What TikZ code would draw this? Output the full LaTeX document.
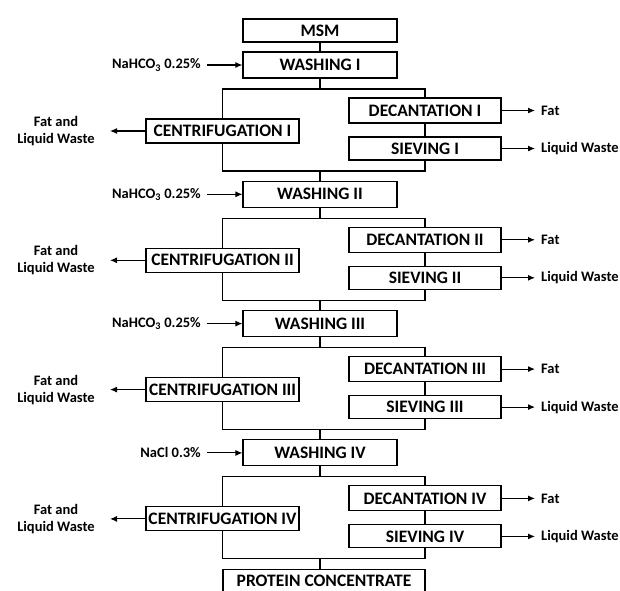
\documentclass[tikz,border=0pt]{standalone}
\usepackage{fontspec}
\setmainfont{Carlito}
\usetikzlibrary{arrows.meta}
\begin{document}
\begin{tikzpicture}[x=1pt,y=-1pt,
  box/.style={draw,line width=1.1pt,inner sep=0pt,font=\fontsize{17.5}{19}\selectfont\bfseries},
  lbl/.style={inner sep=0pt,font=\fontsize{14.5}{17}\selectfont\bfseries,align=center},
  ln/.style={line width=1.1pt},
  arr/.style={line width=1.1pt,-{Latex[length=7pt,width=6pt]}}]
\useasboundingbox (0,0) rectangle (620,590);
\fill[white] (0,0) rectangle (620,590);
\node[box,minimum width=154pt,minimum height=23pt] (m) at (320,30.5) {MSM};
\foreach \k/\r/\chem in {0/I/{NaHCO\textsubscript{3} 0.25\%},1/II/{NaHCO\textsubscript{3} 0.25\%},2/III/{NaHCO\textsubscript{3} 0.25\%},3/IV/{NaCl 0.3\%}}{
  \pgfmathsetmacro{\dy}{\k*129.3}
  \node[box,minimum width=154pt,minimum height=26pt] (w\k) at (320,65+\dy) {WASHING \r};
  \node[box,minimum width=153pt,minimum height=24pt] (c\k) at (222.5,131+\dy) {CENTRIFUGATION \r};
  \node[box,minimum width=152pt,minimum height=25pt] (d\k) at (425,110.5+\dy) {DECANTATION \r};
  \node[box,minimum width=152pt,minimum height=23pt] (s\k) at (425,148.5+\dy) {SIEVING \r};
  \coordinate (t\k) at (320,89+\dy);
  \coordinate (b\k) at (320,171+\dy);
  \coordinate (ci\k) at (207,65+\dy);
  \node[lbl,anchor=east] (in\k) at (201,65+\dy) {\chem};
  \draw[arr] (ci\k) -- (w\k.west);
  \draw[ln] (w\k.south) -- (t\k);
  \draw[ln] (c\k.north) -- (c\k.north |- t\k) -- (d\k.north |- t\k) -- (d\k.north);
  \draw[ln] (d\k.south) -- (s\k.north);
  \draw[ln] (c\k.south) -- (c\k.south |- b\k) -- (s\k.south |- b\k) -- (s\k.south);
  \coordinate (ce\k) at (110,131+\dy);
  \draw[arr] (c\k.west) -- (ce\k);
  \node[lbl] (cl\k) at (56,131+\dy) {Fat and\\Liquid Waste};
  \coordinate (de\k) at (535,110.5+\dy);
  \draw[arr] (d\k.east) -- (de\k);
  \node[lbl,anchor=west] (dl\k) at (541,110.5+\dy) {Fat};
  \coordinate (se\k) at (535,148.5+\dy);
  \draw[arr] (s\k.east) -- (se\k);
  \node[lbl,anchor=west] (sl\k) at (541,148.5+\dy) {Liquid Waste};
}
\draw[ln] (m) -- (w0);
\draw[ln] (b0) -- (w1);
\draw[ln] (b1) -- (w2);
\draw[ln] (b2) -- (w3);
\node[box,minimum width=202pt,minimum height=23pt,anchor=north] (p) at (324,569) {PROTEIN CONCENTRATE};
\draw[ln] (b3) -- (b3 |- p.north);
\end{tikzpicture}
\end{document}
